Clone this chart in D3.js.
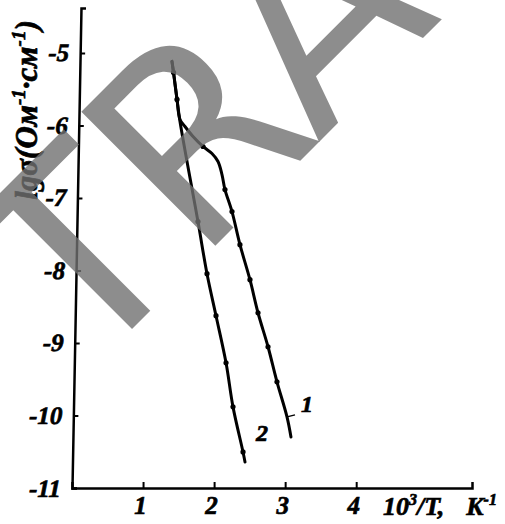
<!DOCTYPE html>
<html><head><meta charset="utf-8">
<script src="https://cdn.jsdelivr.net/npm/d3@7"></script>
<style>
html,body{margin:0;padding:0;background:#fff;}
svg{display:block;}
</style></head>
<body>
<script>
// ---- data ----
const xTicks = [1, 2, 3, 4];
const yTicks = [-5, -6, -7, -8, -9, -10, -11];
// curve 2 (steeper, left)
const curve2X = [1.407, 1.429, 1.478, 1.520, 1.773, 1.900, 2.027, 2.168, 2.266, 2.407, 2.435];
const curve2Y = [-5.116, -5.268, -5.641, -5.945, -7.326, -8.044, -8.624, -9.273, -9.881, -10.503, -10.641];
const marks2X = [1.429, 1.478, 1.773, 1.900, 2.027, 2.168, 2.266, 2.407];
const marks2Y = [-5.268, -5.641, -7.326, -8.044, -8.624, -9.273, -9.881, -10.503];
// curve 1 (kinked, right)
const curve1X = [1.407, 1.429, 1.478, 1.520, 1.590, 1.703, 1.844, 1.970, 2.055, 2.111, 2.153, 2.252, 2.364, 2.505, 2.618, 2.759, 2.885, 3.026, 3.082];
const curve1Y = [-5.116, -5.268, -5.641, -5.917, -6.014, -6.152, -6.290, -6.387, -6.497, -6.677, -6.884, -7.188, -7.644, -8.127, -8.583, -9.052, -9.536, -10.019, -10.296];
const marks1X = [1.844, 2.153, 2.252, 2.364, 2.505, 2.618, 2.759, 2.885];
const marks1Y = [-6.290, -6.884, -7.188, -7.644, -8.127, -8.583, -9.052, -9.536];
const curveLabels = ["1", "2"];

const W = 505, H = 524;
const svg = d3.select("body").append("svg").attr("width", W).attr("height", H);

const x = d3.scaleLinear().domain([0, 5.63]).range([72, 472]);
const y = d3.scaleLinear().domain([-11, -4.38]).range([488, 8]);

const SERIF = "'Liberation Serif', 'Times New Roman', serif";
function lbl(sel, size) {
  return sel.style("font-family", SERIF).style("font-weight", "700").style("font-style", "italic")
    .style("font-size", size + "px").style("fill", "#000")
    .style("stroke", "#000").style("stroke-width", "0.7px");
}

// x axis
const gx = svg.append("g").attr("transform", `translate(0,${y(-11)})`)
  .call(d3.axisBottom(x).tickValues(xTicks).tickSize(-6).tickPadding(10).tickFormat(d3.format("d")));
gx.select(".domain").attr("stroke", "#000").attr("stroke-width", 2.5);
gx.selectAll(".tick line").attr("stroke", "#000").attr("stroke-width", 2);
lbl(gx.selectAll(".tick text"), 25).attr("dy", "0.62em").attr("dx", -3);

// y axis (scan slightly skewed)
const skew = Math.atan(9 / 480) * 180 / Math.PI;
const gy = svg.append("g").attr("transform", `translate(${x(0) + 488 * 9 / 480},0) skewX(${-skew})`)
  .call(d3.axisLeft(y).tickValues(yTicks).tickSize(-5).tickPadding(11).tickFormat(d => String(d)));
gy.select(".domain").attr("stroke", "#000").attr("stroke-width", 2.5);
gy.selectAll(".tick line").attr("stroke", "#000").attr("stroke-width", 2);
lbl(gy.selectAll(".tick text"), 25);

// curves
const line = d3.line().x(d => x(d[0])).y(d => y(d[1])).curve(d3.curveCatmullRom.alpha(0.5));
const c2 = curve2X.map((v, i) => [v, curve2Y[i]]);
const c1 = curve1X.map((v, i) => [v, curve1Y[i]]);
[c1, c2].forEach(c => {
  svg.append("path").datum(c).attr("d", line).attr("fill", "none")
    .attr("stroke", "#000").attr("stroke-width", 3).attr("stroke-linejoin", "round").attr("stroke-linecap", "round");
});
const m = marks2X.map((v, i) => [v, marks2Y[i]]).concat(marks1X.map((v, i) => [v, marks1Y[i]]));
svg.selectAll("circle.mk").data(m).join("circle").attr("class", "mk")
  .attr("cx", d => x(d[0])).attr("cy", d => y(d[1])).attr("r", 2.6).attr("fill", "#000");

// leader for label 1
const endA = c1[c1.length - 2];
svg.append("line").attr("x1", x(endA[0])).attr("y1", y(endA[1]))
  .attr("x2", x(endA[0]) + 8).attr("y2", y(endA[1]) - 2).attr("stroke", "#000").attr("stroke-width", 1.5);

// curve labels
lbl(svg.append("text"), 24).attr("x", x(endA[0]) + 14).attr("y", y(endA[1]) - 5).text(curveLabels[0]);
const endB = c2[c2.length - 2];
lbl(svg.append("text"), 24).attr("x", x(endB[0]) + 13).attr("y", y(endB[1]) - 11).text(curveLabels[1]);

// axis titles
const xt = lbl(svg.append("text"), 26).attr("x", 383).attr("y", 515);
xt.append("tspan").text("10");
xt.append("tspan").text("3").style("font-size", "16px").attr("dy", -10);
xt.append("tspan").text("/T,").attr("dy", 10);
xt.append("tspan").text("K").attr("dx", 22);
xt.append("tspan").text("-1").style("font-size", "16px").attr("dy", -10);

const yt = lbl(svg.append("text"), 31).attr("transform", "translate(37,110) rotate(-90)")
  .attr("text-anchor", "middle");
yt.append("tspan").text("lgσ(Ом");
yt.append("tspan").text("-1").style("font-size", "19px").attr("dy", -12);
yt.append("tspan").text("·см").attr("dy", 12);
yt.append("tspan").text("-1").style("font-size", "19px").attr("dy", -12);
yt.append("tspan").text(")").attr("dy", 12);

// watermark
svg.append("text").attr("transform", "translate(85,376) rotate(-45)")
  .style("font-family", "'DejaVu Sans', sans-serif").style("font-size", "260px")
  .attr("fill", "rgb(112,112,112)").attr("fill-opacity", 0.8).text("TRA");
</script>
</body></html>
